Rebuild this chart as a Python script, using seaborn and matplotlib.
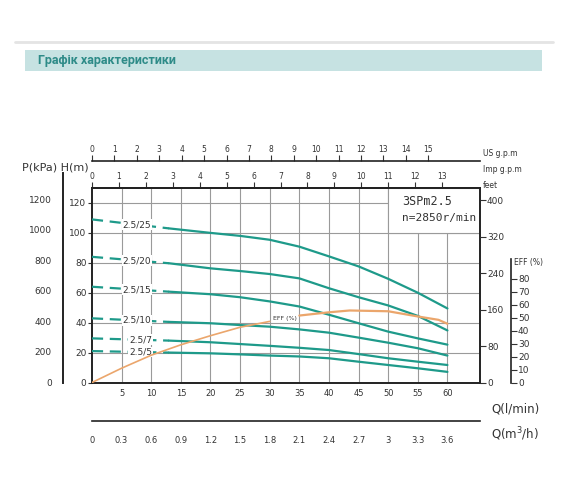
import numpy as np
import pandas as pd
import seaborn as sns
import matplotlib.pyplot as plt
from matplotlib.patches import Rectangle
from matplotlib.lines import Line2D

# flow points (l/min) and head curves (m)
q_pts = [0, 13, 20, 25, 30, 35, 40, 45, 50, 55, 60]
h_25 = [109, 103, 100, 98, 95.4, 90.8, 84.3, 77.6, 69.3, 60, 49.5]
h_20 = [84, 79.7, 76.3, 74.5, 72.5, 69.6, 63, 57, 51.5, 44.5, 34.8]
h_15 = [64, 60.7, 59, 57, 54.2, 50.8, 45.3, 39.6, 34, 29.5, 25.3]
h_10 = [42.9, 40.5, 39.6, 38.4, 37.3, 35.5, 33.3, 30, 26.6, 22.9, 18]
h_7 = [29.5, 28, 26.9, 25.7, 24.5, 23.2, 21.7, 19, 16.2, 13.9, 11.7]
h_5 = [21, 20, 19.5, 18.8, 18, 17.4, 16.2, 13.9, 11.7, 9.5, 7.1]
pumps = ["2.5/25", "2.5/20", "2.5/15", "2.5/10", "2.5/7", "2.5/5"]
label_q = [7.6, 7.6, 7.6, 7.6, 8.2, 8.2]

# efficiency (%)
eff_q_a = [0, 5, 10, 15, 20, 25, 30]
eff_a = [0, 11, 21, 29, 36, 42.5, 47]
eff_q_b = [35, 40, 43.5, 50, 55, 58.5, 60]
eff_b = [51.5, 54, 55.4, 54.8, 50.8, 48.2, 45.2]

q_ticks = [5, 10, 15, 20, 25, 30, 35, 40, 45, 50, 55, 60]
h_ticks = [0, 20, 40, 60, 80, 100, 120]
p_ticks = [0, 200, 400, 600, 800, 1000, 1200]
feet_ticks = [0, 80, 160, 240, 320, 400]
eff_ticks = [0, 10, 20, 30, 40, 50, 60, 70, 80]
us_ticks = list(range(16))
imp_ticks = list(range(14))
m3h_ticks = [0, 0.3, 0.6, 0.9, 1.2, 1.5, 1.8, 2.1, 2.4, 2.7, 3.0, 3.3, 3.6]
m3h_labels = ["0", "0.3", "0.6", "0.9", "1.2", "1.5", "1.8", "2.1", "2.4", "2.7", "3", "3.3", "3.6"]

teal = "#1e9a8a"
orange = "#eba66c"
grid_c = "#9a9a9a"
txt_c = "#333333"

sns.set_style("white")
plt.rcParams["font.family"] = ["DejaVu Sans"]

W, H = 570, 495
fig = plt.figure(figsize=(W / 100, H / 100), dpi=100)


def fx(px):
    return px / W


def fy(py):
    return 1 - py / H


# header
fig.add_artist(Line2D([fx(15), fx(553)], [fy(42), fy(42)], color="#e4e4e4", lw=2,
                      transform=fig.transFigure))
fig.add_artist(Rectangle((fx(25), fy(71)), (542 - 25) / W, 21 / H, transform=fig.transFigure,
                         fc="#c6e2e2", ec="none"))
fig.text(fx(38), fy(60.5), "Графік характеристики", fontsize=9, fontweight="bold",
         color="#2e8b88", family=["Roboto", "DejaVu Sans"], va="center")

# main plot
x0, x1, y_top, y_bot = 92, 480, 188, 382.5
q_max = 65.5
h_max = 130
ax = fig.add_axes([fx(x0), fy(y_bot), (x1 - x0) / W, (y_bot - y_top) / H])

rows = []
for name, hv in zip(pumps, [h_25, h_20, h_15, h_10, h_7, h_5]):
    for q, v in zip(q_pts, hv):
        rows.append((name, q, v))
df = pd.DataFrame(rows, columns=["pump", "Q", "H"])

sns.lineplot(data=df[df.Q >= 13], x="Q", y="H", units="pump", estimator=None,
             color=teal, lw=1.6, ax=ax, zorder=3)
sns.lineplot(data=df[df.Q <= 13], x="Q", y="H", units="pump", estimator=None,
             color=teal, lw=1.6, ax=ax, linestyle=(0, (5, 3)), zorder=3)

for name, lq in zip(pumps, label_q):
    sub = df[df.pump == name]
    lh = np.interp(lq, sub.Q, sub.H)
    ax.text(lq, lh, name, ha="center", va="center", fontsize=6.5, color=txt_c, zorder=4,
            bbox=dict(fc="white", ec="none", pad=0.6))

ax.set_xlim(0, q_max)
ax.set_ylim(0, h_max)
ax.set_xticks(q_ticks)
ax.set_yticks(h_ticks)
ax.set_axisbelow(True)
ax.grid(True, color=grid_c, lw=0.8)
ax.set_xlabel("")
ax.set_ylabel("")
ax.tick_params(axis="x", length=0, pad=5, labelsize=6, colors=txt_c)
ax.tick_params(axis="y", length=3, pad=1, labelsize=6.5, colors=txt_c, width=0.8)
for s in ax.spines.values():
    s.set_color("#222222")
    s.set_linewidth(1.4)

# model box
ax.add_patch(Rectangle((50, 100), q_max - 50, h_max - 100, fc="white", ec=grid_c, lw=0.8, zorder=1.5))
ax.text(52.4, 121.3, "3SPm2.5", fontsize=8.5, family="DejaVu Sans Mono", color=txt_c, va="center", zorder=4)
ax.text(52.4, 110, "n=2850r/min", fontsize=8, family="DejaVu Sans Mono", color=txt_c, va="center", zorder=4)

# Imp g.p.m on the frame top
sec = ax.secondary_xaxis("top", functions=(lambda q: q / 4.546, lambda g: g * 4.546))
sec.set_xticks(imp_ticks)
sec.tick_params(length=4, pad=1, labelsize=5.5, colors=txt_c, direction="out")
sec.spines["top"].set_linewidth(1.4)

# feet on the right
ax_ft = ax.twinx()
ax_ft.set_ylim(0, h_max / 0.3048)
ax_ft.set_yticks(feet_ticks)
ax_ft.tick_params(axis="y", length=4, pad=1, labelsize=6.5, colors=txt_c)
for k in ["top", "left", "bottom", "right"]:
    ax_ft.spines[k].set_visible(False)
ax_ft.grid(False)

# efficiency axis
ax_eff = ax.twinx()
eff_max = (y_bot - y_top) / 1.3
ax_eff.set_ylim(0, eff_max)
dfa = pd.DataFrame({"Q": eff_q_a, "EFF": eff_a})
dfb = pd.DataFrame({"Q": eff_q_b, "EFF": eff_b})
sns.lineplot(data=dfa, x="Q", y="EFF", color=orange, lw=1.2, ax=ax_eff)
sns.lineplot(data=dfb, x="Q", y="EFF", color=orange, lw=1.6, ax=ax_eff)
ax_eff.text(30.6, 49, "EFF (%)", fontsize=4.5, color=txt_c, va="center")
ax_eff.set_xlim(0, q_max)
ax_eff.set_ylabel("")
ax_eff.set_yticks(eff_ticks)
for k in ["top", "left", "bottom"]:
    ax_eff.spines[k].set_visible(False)
ax_eff.spines["right"].set_position(("axes", (511 - x0) / (x1 - x0)))
ax_eff.spines["right"].set_bounds(0, 95)
ax_eff.spines["right"].set_color("#222222")
ax_eff.spines["right"].set_linewidth(1.2)
ax_eff.tick_params(axis="y", length=4, pad=1, labelsize=6.5, colors=txt_c)
ax_eff.grid(False)
fig.text(fx(514), fy(262), "EFF (%)", fontsize=5.5, color=txt_c, va="center")

# P(kPa) axis on the left
p_top = 173
ax_p = fig.add_axes([fx(63), fy(y_bot), 0.0005, (y_bot - p_top) / H])
ax_p.set_ylim(0, (y_bot - p_top) / ((y_bot - y_top) / h_max) * 9.807)
ax_p.set_yticks(p_ticks)
ax_p.set_xticks([])
ax_p.patch.set_visible(False)
for k in ["top", "right", "bottom"]:
    ax_p.spines[k].set_visible(False)
ax_p.spines["left"].set_linewidth(1.4)
ax_p.spines["left"].set_color("#222222")
ax_p.tick_params(axis="y", length=6, pad=2, labelsize=6.5, colors=txt_c)

# US g.p.m axis on top
ax_us = fig.add_axes([fx(x0), fy(160.7), (x1 - x0) / W, 0.0001])
ax_us.set_xlim(0, q_max / 3.785)
ax_us.set_xticks(us_ticks)
ax_us.set_yticks([])
ax_us.patch.set_visible(False)
ax_us.xaxis.set_ticks_position("top")
ax_us.xaxis.set_label_position("top")
for k in ["left", "right", "bottom"]:
    ax_us.spines[k].set_visible(False)
ax_us.spines["top"].set_linewidth(1.2)
ax_us.spines["top"].set_color("#222222")
ax_us.tick_params(axis="x", length=4, pad=1, labelsize=5.5, colors=txt_c)

# Q (m3/h) axis at the bottom
ax_m3 = fig.add_axes([fx(x0), fy(421), (x1 - x0) / W, 0.0001])
ax_m3.set_xlim(0, q_max * 0.06)
ax_m3.set_xticks(m3h_ticks)
ax_m3.set_xticklabels(m3h_labels)
ax_m3.set_yticks([])
ax_m3.patch.set_visible(False)
for k in ["left", "right", "top"]:
    ax_m3.spines[k].set_visible(False)
ax_m3.spines["bottom"].set_linewidth(1.2)
ax_m3.spines["bottom"].set_color("#222222")
ax_m3.tick_params(axis="x", length=4, pad=7, labelsize=6, colors=txt_c)

# axis titles
fig.text(fx(22), fy(167), "P(kPa) H(m)", fontsize=8, color=txt_c, va="center")
fig.text(fx(483), fy(153), "US g.p.m", fontsize=5.5, color=txt_c, va="center")
fig.text(fx(483), fy(170), "Imp g.p.m", fontsize=5.5, color=txt_c, va="center")
fig.text(fx(483), fy(185), "feet", fontsize=5.5, color=txt_c, va="center")
fig.text(fx(491), fy(409), "Q(l/min)", fontsize=8.5, color=txt_c, va="center")
fig.text(fx(491), fy(434), "Q(m$^3$/h)", fontsize=8.5, color=txt_c, va="center")

fig.savefig("out.png", dpi=100)
